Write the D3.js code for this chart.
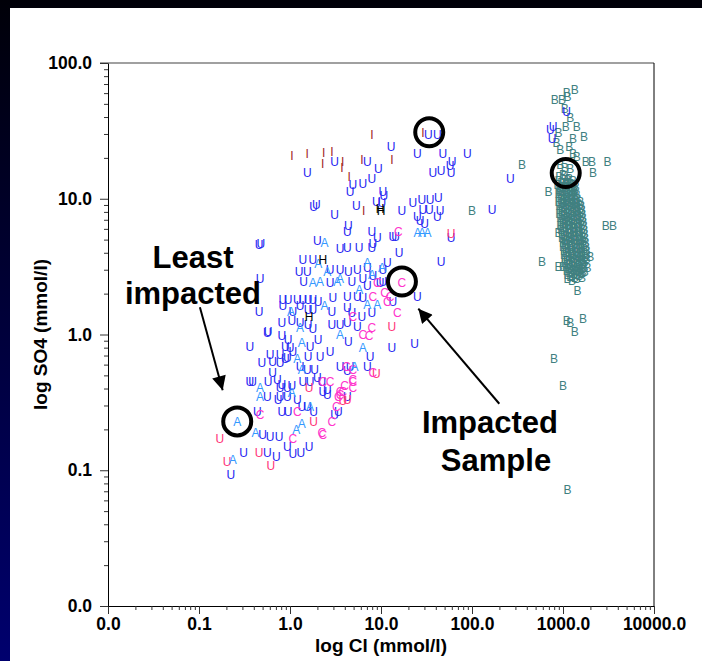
<!DOCTYPE html>
<html>
<head>
<meta charset="utf-8">
<script src="https://cdn.jsdelivr.net/npm/d3@7"></script>
<style>
	body { margin: 0; background: #000; }
	svg { display: block; font-family: "Liberation Sans", Arial, sans-serif; }
</style>
</head>
<body>
<div id="chart"></div>
<script>
var width = 702;
var height = 661;
var margin = {top: 63, right: 48, bottom: 55, left: 108};

// all values are log10 of concentration (mmol/l): [log Cl, log SO4]
var xTicks = [-2, -1, 0, 1, 2, 3, 4];
var yTicks = [-2, -1, 0, 1, 2];

var uBlue = [
	[1.11,1.38],[1.40,1.33],[1.68,1.33],[1.95,1.33],[1.78,1.27],[1.76,1.24],[1.77,1.19],[1.57,1.19],[1.66,1.21],
	[0.49,1.27],[0.19,1.19],[0.85,1.27],[0.97,1.22],[1.52,1.47],[1.62,1.47],[2.42,1.15],[2.86,1.51],[2.89,1.53],
	[2.88,1.44],[3.04,1.64],[2.22,0.92],
	[0.90,1.15],[0.80,1.11],[0.69,1.10],[0.66,1.05],[1.02,1.05],[1.03,1.02],[0.95,0.98],[1.01,0.97],[0.29,0.96],
	[0.26,0.94],[0.49,0.88],[0.73,0.95],[1.23,0.91],[1.35,0.97],[1.45,0.99],[1.54,0.99],[1.63,1.01],[1.40,0.87],
	[1.43,0.84],[1.48,0.82],[1.46,0.92],[1.53,0.92],[1.65,0.91],[1.62,0.87],
	[0.64,0.80],[0.63,0.76],[0.90,0.76],[0.96,0.71],[0.91,0.67],[0.90,0.64],[1.13,0.72],[1.16,0.72],[1.77,0.71],
	[1.20,0.60],[1.66,0.54],[-0.34,0.66],[-0.32,0.67],[0.30,0.69],[0.63,0.64],[0.76,0.64],[0.55,0.63],[0.25,0.55],
	[0.14,0.55],[-0.33,0.41],[-0.34,0.17],[1.40,0.28],
	[0.10,0.46],[0.19,0.46],[0.44,0.48],[0.55,0.48],[0.64,0.46],[0.74,0.48],[0.85,0.49],[0.91,0.43],[1.02,0.48],
	[1.07,0.53],[0.15,0.39],[0.44,0.38],[0.68,0.39],[0.80,0.41],[0.85,0.36],[0.99,0.38],[1.02,0.39],
	[-0.08,0.26],[-0.02,0.26],[0.08,0.26],[0.14,0.26],[0.20,0.26],[0.25,0.26],[0.31,0.24],[0.47,0.27],[0.63,0.28],
	[0.74,0.28],[0.80,0.27],[1.13,0.24],
	[-0.08,0.21],[0.03,0.17],[0.11,0.21],[0.20,0.18],[0.25,0.18],[0.46,0.17],[0.63,0.20],[0.68,0.16],[0.79,0.13],
	[0.90,0.16],[-0.09,0.09],[0.02,0.10],[0.11,0.09],[0.20,0.07],[0.25,0.04],[0.46,0.07],[0.55,0.07],[0.63,0.09],
	[0.74,0.06],[-0.24,0.02],
	[-0.09,-0.01],[-0.02,-0.04],[0.22,-0.09],[0.31,-0.04],[-0.05,-0.09],[0.00,-0.10],[0.03,-0.13],[-0.22,-0.15],
	[-0.11,-0.15],[-0.03,-0.17],[0.20,-0.16],[0.33,-0.16],[0.44,-0.13],[0.64,-0.05],[0.88,-0.16],[1.12,-0.10],
	[1.37,-0.07],[-0.25,0.01],[-0.44,-0.09],
	[-0.31,-0.21],[-0.19,-0.20],[-0.11,-0.21],[-0.05,-0.18],[0.11,-0.24],[0.19,-0.26],[0.27,-0.26],[0.85,-0.24],
	[-0.19,-0.28],[-0.41,-0.35],[-0.24,-0.35],[-0.14,-0.33],[-0.09,-0.37],[0.35,-0.35],[0.63,-0.46],[0.41,-0.44],
	[-0.11,-0.46],[0.55,-0.24],[0.63,-0.27],[0.66,-0.24],[0.41,-0.41],[0.36,-0.42],[0.14,-0.35],[0.22,-0.35],
	[0.30,-0.32],[-0.11,-0.39],[-0.03,-0.39],[0.02,-0.38],
	[-0.44,-0.35],[-0.25,-0.46],[-0.13,-0.48],[-0.03,-0.46],[0.08,-0.48],[-0.09,-0.57],[-0.02,-0.57],[0.13,-0.53],
	[0.19,-0.53],[0.26,-0.57],[0.49,-0.59],[0.53,-0.57],[-0.36,-0.57],
	[-0.30,-0.74],[-0.22,-0.75],[-0.12,-0.75],[-0.51,-0.87],[-0.25,-0.87],[-0.15,-0.90],[-0.03,-0.83],[0.03,-0.88],
	[0.12,-0.87],[0.21,-0.83],[-0.65,-1.03]
];

var uPink = [
	[-0.77,-0.77],[-0.69,-0.94],[-0.34,-0.87],[-0.21,-0.97],[0.26,-0.64],[0.21,-0.39],[0.58,-0.49],[0.63,-0.48],
	[0.95,-0.29],[1.77,0.74],[1.12,0.06]
];

var aSamples = [
	[-0.58,-0.64],[-0.63,-0.92],[-0.38,-0.72],[-0.33,-0.39],[-0.33,-0.46],[0.13,-0.66],[0.07,-0.70],[0.22,-0.53],
	[0.13,-0.06],[0.11,0.05],[0.38,0.68],[0.31,0.52],[0.41,0.46],[0.25,0.38],[0.33,0.39],[0.55,0.41],[0.85,0.53],
	[0.38,0.21],[0.85,0.22],[0.96,0.22],[0.08,-0.18],[0.13,-0.26],[0.02,-0.43],[0.55,0.00],[0.80,-0.10],[1.40,0.75],
	[1.45,0.75],[1.51,0.75],[0.76,0.33],[0.90,0.44],[0.01,0.17],[0.52,0.39],[0.71,-0.24],[1.01,0.49]
];

var cSamples = [
	[1.19,0.76],[1.23,0.38],[1.04,0.31],[1.10,0.28],[0.91,0.28],[1.07,0.24],[1.18,0.16],[0.69,0.13],[0.80,0.00],
	[0.90,0.05],[0.87,-0.01],[0.62,-0.24],[0.69,-0.26],[0.91,-0.28],[0.36,-0.35],[0.44,-0.35],[0.55,-0.42],
	[0.60,-0.38],[0.69,-0.35],[0.53,-0.46],[0.51,-0.53],[0.55,-0.44],[0.58,-0.42],[0.69,-0.33],[0.69,-0.39],
	[0.46,-0.64],[0.35,-0.72],[0.36,-0.74],[0.08,-0.57],[0.03,-0.77],[-0.33,-0.59],[0.96,0.38]
];

var iSamples = [
	[0.90,1.47],[0.02,1.32],[0.19,1.33],[0.37,1.34],[0.46,1.35],[0.36,1.26],[0.58,1.27],[0.57,1.23],[0.79,1.29],
	[1.12,1.29],[0.65,1.16],[0.81,0.91],[1.46,1.49]
];

var hSamples = [[0.99,0.93],[1.00,0.91],[0.36,0.55],[0.21,0.13]];

var bSamples = [
	[3.13,1.80],[3.04,1.78],[2.91,1.73],[2.99,1.73],[3.05,1.75],[3.02,1.66],[3.08,1.60],[3.03,1.53],[3.15,1.53],
	[2.95,1.49],[3.11,1.44],[3.23,1.46],[2.93,1.41],[2.97,1.36],[3.07,1.38],[3.11,1.33],[3.15,1.31],[3.25,1.27],
	[3.32,1.27],[3.33,1.19],[3.49,1.27],[2.55,1.25],[2.84,1.05],[2.97,1.25],[3.02,1.23],[3.08,1.22],[3.00,1.18],
	[3.47,0.80],[3.55,0.80],[2.95,0.75],[2.77,0.54],[2.95,0.50],[3.00,0.50],[3.30,0.57],[3.27,0.49],[3.16,0.32],
	[3.04,0.10],[3.08,0.09],[3.13,0.02],[3.22,0.12],[2.90,-0.18],[3.00,-0.38],[3.05,-1.14],[2.00,0.91],
	[2.96,1.16],[3.02,1.17],[3.07,1.15],
	[2.95,1.13],[3.00,1.12],[3.05,1.14],[3.11,1.13],
	[2.94,1.10],[3.00,1.09],[3.04,1.10],[3.09,1.11],[3.14,1.09],
	[2.96,1.07],[2.99,1.06],[3.05,1.07],[3.10,1.06],[3.13,1.07],
	[2.95,1.04],[3.01,1.03],[3.05,1.04],[3.10,1.05],[3.15,1.03],
	[2.96,1.01],[3.01,1.00],[3.06,1.01],[3.12,1.02],[3.16,1.00],
	[2.95,0.98],[3.00,0.97],[3.05,0.98],[3.10,0.99],[3.15,0.97],[3.19,0.98],
	[2.96,0.95],[3.02,0.94],[3.06,0.95],[3.11,0.96],[3.16,0.94],[3.20,0.95],
	[2.97,0.92],[3.01,0.91],[3.06,0.92],[3.12,0.93],[3.16,0.91],[3.21,0.92],
	[2.96,0.89],[3.01,0.88],[3.07,0.89],[3.11,0.90],[3.17,0.88],[3.21,0.89],
	[2.97,0.86],[3.03,0.85],[3.07,0.86],[3.12,0.87],[3.17,0.85],[3.22,0.86],
	[2.98,0.83],[3.02,0.82],[3.08,0.83],[3.12,0.84],[3.18,0.82],[3.22,0.83],
	[2.97,0.80],[3.03,0.79],[3.07,0.80],[3.13,0.81],[3.17,0.79],[3.23,0.80],
	[2.98,0.77],[3.03,0.76],[3.08,0.77],[3.13,0.78],[3.18,0.76],[3.23,0.77],
	[2.99,0.74],[3.04,0.73],[3.08,0.74],[3.14,0.75],[3.18,0.73],[3.24,0.74],
	[2.99,0.71],[3.04,0.70],[3.09,0.71],[3.14,0.72],[3.19,0.70],[3.24,0.71],
	[3.00,0.68],[3.05,0.67],[3.09,0.68],[3.15,0.69],[3.20,0.67],[3.25,0.68],
	[3.00,0.65],[3.05,0.64],[3.10,0.65],[3.15,0.66],[3.20,0.64],[3.25,0.65],
	[3.01,0.62],[3.06,0.61],[3.10,0.62],[3.16,0.63],[3.21,0.61],[3.26,0.62],
	[3.01,0.59],[3.06,0.58],[3.11,0.59],[3.16,0.60],[3.21,0.58],[3.26,0.59],
	[3.02,0.56],[3.07,0.55],[3.12,0.56],[3.17,0.57],[3.22,0.55],[3.26,0.56],
	[3.02,0.53],[3.07,0.52],[3.12,0.53],[3.17,0.54],[3.22,0.52],
	[3.03,0.50],[3.08,0.49],[3.13,0.50],[3.18,0.51],[3.23,0.49],
	[3.04,0.47],[3.09,0.46],[3.14,0.47],[3.19,0.48],[3.24,0.46],
	[3.05,0.44],[3.10,0.43],[3.15,0.44],[3.20,0.45],
	[3.05,0.41],[3.10,0.40],[3.15,0.41],[3.21,0.42],
	[2.98,1.115],[3.03,1.12],[3.08,1.11],
	[2.97,1.085],[3.02,1.08],[3.07,1.09],[3.12,1.085],
	[2.97,1.055],[3.03,1.05],[3.08,1.06],[3.12,1.055],
	[2.98,1.025],[3.03,1.02],[3.08,1.03],[3.13,1.025],
	[2.98,0.995],[3.04,0.99],[3.09,1.00],[3.14,0.995],
	[2.98,0.965],[3.03,0.96],[3.08,0.97],[3.13,0.965],[3.18,0.96],
	[2.99,0.935],[3.04,0.93],[3.09,0.94],[3.14,0.935],[3.19,0.93],
	[2.99,0.905],[3.04,0.90],[3.09,0.91],[3.14,0.905],[3.19,0.90],
	[2.99,0.875],[3.04,0.87],[3.09,0.88],[3.15,0.875],[3.19,0.87],
	[3.00,0.845],[3.05,0.84],[3.10,0.85],[3.15,0.845],[3.20,0.84],
	[3.00,0.815],[3.05,0.81],[3.10,0.82],[3.15,0.815],[3.20,0.81],
	[3.00,0.785],[3.06,0.78],[3.11,0.79],[3.16,0.785],[3.21,0.78],
	[3.01,0.755],[3.06,0.75],[3.11,0.76],[3.16,0.755],[3.21,0.75],
	[3.01,0.725],[3.06,0.72],[3.12,0.73],[3.17,0.725],[3.22,0.72],
	[3.02,0.695],[3.07,0.69],[3.12,0.70],[3.17,0.695],[3.22,0.69],
	[3.02,0.665],[3.08,0.66],[3.13,0.67],[3.18,0.665],[3.23,0.66],
	[3.03,0.635],[3.08,0.63],[3.13,0.64],[3.18,0.635],[3.23,0.63],
	[3.03,0.605],[3.09,0.60],[3.14,0.61],[3.19,0.605],[3.24,0.60],
	[3.04,0.575],[3.09,0.57],[3.14,0.58],[3.19,0.575],[3.24,0.57],
	[3.04,0.545],[3.10,0.54],[3.15,0.55],[3.20,0.545],[3.24,0.54],
	[3.05,0.515],[3.10,0.51],[3.15,0.52],[3.20,0.515],
	[3.06,0.485],[3.11,0.48],[3.16,0.49],[3.21,0.485],
	[3.07,0.455],[3.12,0.45],[3.17,0.46],[3.22,0.455],
	[3.08,0.425],[3.13,0.42],[3.18,0.43]
];

// highlighted samples and arrows (data coords)
var circled = [[-0.58,-0.64],[1.53,1.49],[1.23,0.39],[3.03,1.19]];
var arrows = [
	{from: [-0.99, 0.20], to: [-0.74, -0.41]},
	{from: [2.30, -0.51], to: [1.41, 0.19]}
];

var groups = [
	{label: "B", color: "#408080", data: bSamples},
	{label: "U", color: "#2626f2", data: uBlue},
	{label: "U", color: "#ff3377", data: uPink},
	{label: "C", color: "#ff33cc", data: cSamples},
	{label: "A", color: "#3399ff", data: aSamples},
	{label: "I", color: "#a02828", data: iSamples},
	{label: "H", color: "#000000", data: hSamples}
];

var svg = d3.select("#chart").append("svg")
	.attr("width", width)
	.attr("height", height);

var grad = svg.append("defs").append("linearGradient")
	.attr("id", "bg")
	.attr("x1", 0).attr("y1", 0).attr("x2", 0).attr("y2", 1);
grad.append("stop").attr("offset", "0%").attr("stop-color", "#000008");
grad.append("stop").attr("offset", "100%").attr("stop-color", "#00006e");

svg.append("rect").attr("width", width).attr("height", height).attr("fill", "url(#bg)");
svg.append("rect").attr("x", 10).attr("y", 8).attr("width", width - 10).attr("height", height - 8).attr("fill", "#fff");

var x = d3.scaleLinear().domain([-2, 4]).range([margin.left, width - margin.right]);
var y = d3.scaleLinear().domain([-2, 2]).range([height - margin.bottom, margin.top]);

function minors(ticks) {
	return d3.range(ticks[0], ticks[ticks.length - 1])
		.flatMap(d => d3.range(2, 10).map(k => d + Math.log10(k)));
}
var fmt = d => Math.pow(10, d).toFixed(1);

// frame
svg.append("line")
	.attr("x1", x(-2) - 8).attr("x2", x(4)).attr("y1", y(2)).attr("y2", y(2))
	.attr("stroke", "#808080").attr("stroke-width", 1.5);
svg.append("line")
	.attr("x1", x(4)).attr("x2", x(4)).attr("y1", y(2)).attr("y2", y(-2))
	.attr("stroke", "#000");

// x axis
var gx = svg.append("g").attr("transform", `translate(0,${y(-2)})`);
gx.call(d3.axisBottom(x).tickValues(xTicks).tickFormat(fmt).tickSize(8).tickPadding(4).tickSizeOuter(0));
gx.append("g").call(d3.axisBottom(x).tickValues(minors(xTicks)).tickFormat("").tickSize(4))
	.call(g => g.select(".domain").remove());

// y axis
var gy = svg.append("g").attr("transform", `translate(${x(-2)},0)`);
gy.call(d3.axisLeft(y).tickValues(yTicks).tickFormat(fmt).tickSize(8).tickPadding(8).tickSizeOuter(0));
gy.append("g").call(d3.axisLeft(y).tickValues(minors(yTicks)).tickFormat("").tickSize(4))
	.call(g => g.select(".domain").remove());

svg.selectAll(".tick text")
	.attr("font-family", "Liberation Sans, Arial, sans-serif")
	.attr("font-weight", "bold")
	.attr("font-size", 17.5)
	.attr("fill", "#000");
svg.selectAll(".tick line").attr("stroke", "#333");
svg.selectAll(".domain").attr("stroke", "#000");

svg.append("text")
	.attr("x", (x(-2) + x(4)) / 2)
	.attr("y", 652)
	.attr("text-anchor", "middle")
	.attr("font-weight", "bold")
	.attr("font-size", 19)
	.text("log Cl (mmol/l)");

svg.append("text")
	.attr("transform", `translate(47,${(y(-2) + y(2)) / 2}) rotate(-90)`)
	.attr("text-anchor", "middle")
	.attr("font-weight", "bold")
	.attr("font-size", 19)
	.text("log SO4 (mmol/l)");

// sample letters
var plot = svg.append("g")
	.attr("font-size", 12)
	.attr("text-anchor", "middle");

groups.forEach(grp => {
	plot.append("g")
		.attr("fill", grp.color)
		.selectAll("text")
		.data(grp.data)
		.join("text")
			.attr("x", d => x(d[0]))
			.attr("y", d => y(d[1]))
			.attr("dy", "0.36em")
			.text(grp.label);
});

// annotations
svg.append("defs").append("marker")
	.attr("id", "head")
	.attr("viewBox", "0 0 10 10")
	.attr("refX", 10).attr("refY", 5)
	.attr("markerWidth", 7.5).attr("markerHeight", 7)
	.attr("markerUnits", "strokeWidth")
	.attr("orient", "auto")
	.append("path").attr("d", "M0,0L10,5L0,10Z").attr("fill", "#000");

svg.append("g").selectAll("line")
	.data(arrows)
	.join("line")
		.attr("x1", d => x(d.from[0])).attr("y1", d => y(d.from[1]))
		.attr("x2", d => x(d.to[0])).attr("y2", d => y(d.to[1]))
		.attr("stroke", "#000").attr("stroke-width", 2)
		.attr("marker-end", "url(#head)");

svg.append("g").selectAll("circle")
	.data(circled)
	.join("circle")
		.attr("cx", d => x(d[0])).attr("cy", d => y(d[1]))
		.attr("r", 14)
		.attr("fill", "none")
		.attr("stroke", "#000")
		.attr("stroke-width", 4);

var notes = svg.append("g")
	.attr("text-anchor", "middle")
	.attr("font-weight", "bold")
	.attr("font-size", 31);
notes.append("text").attr("x", 193).attr("y", 268).text("Least");
notes.append("text").attr("x", 193).attr("y", 304).text("impacted");
notes.append("text").attr("x", 490).attr("y", 433).text("Impacted");
notes.append("text").attr("x", 496).attr("y", 471).text("Sample");
</script>
</body>
</html>
